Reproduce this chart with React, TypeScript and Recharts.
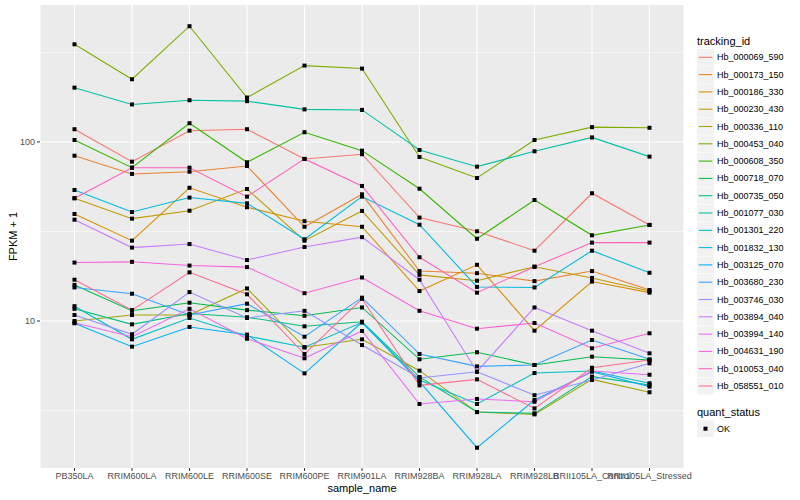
import React from "react";
import { LineChart, Line, XAxis, YAxis, CartesianGrid } from "recharts";

const categories = [
  "PB350LA",
  "RRIM600LA",
  "RRIM600LE",
  "RRIM600SE",
  "RRIM600PE",
  "RRIM901LA",
  "RRIM928BA",
  "RRIM928LA",
  "RRIM928LB",
  "RRII105LA_Control",
  "RRII105LA_Stressed",
];

const seriesNames = [
  "Hb_000069_590",
  "Hb_000173_150",
  "Hb_000186_330",
  "Hb_000230_430",
  "Hb_000336_110",
  "Hb_000453_040",
  "Hb_000608_350",
  "Hb_000718_070",
  "Hb_000735_050",
  "Hb_001077_030",
  "Hb_001301_220",
  "Hb_001832_130",
  "Hb_003125_070",
  "Hb_003680_230",
  "Hb_003746_030",
  "Hb_003894_040",
  "Hb_003994_140",
  "Hb_004631_190",
  "Hb_010053_040",
  "Hb_058551_010",
];

const seriesColors = [
  "#F8766D", "#EA8331", "#D89000", "#C09B00", "#A3A500",
  "#7CAE00", "#39B600", "#00BB4E", "#00BF7D", "#00C1A3",
  "#00BFC4", "#00BAE0", "#00B0F6", "#35A2FF", "#9590FF",
  "#C77CFF", "#E76BF3", "#FA62DB", "#FF62BC", "#FF6C91",
];

const s000069 = [117.8, 77.6, 115.6, 117.8, 80.4, 85.4, 37.8, 31.7, 24.7, 51.7, 34.4];
const s000173 = [83.8, 66.3, 68.2, 73.4, 33.6, 51.0, 19.0, 18.5, 16.7, 19.0, 14.9];
const s000186 = [39.6, 28.1, 55.5, 43.2, 36.1, 33.6, 14.7, 20.6, 8.83, 16.6, 14.4];
const s000230 = [48.5, 37.3, 41.3, 54.6, 28.1, 41.2, 18.1, 16.8, 20.1, 17.4, 14.7];
const s000336 = [10.0, 10.8, 10.8, 15.2, 7.13, 7.9, 5.28, 3.1, 3.01, 4.72, 4.0];
const s000453 = [351, 224, 443, 177, 267, 257, 82.4, 62.9, 102.6, 121, 120];
const s000608 = [102.6, 71.8, 127.2, 77.0, 113.3, 89.4, 54.8, 28.8, 47.4, 30.1, 34.4];
const s000718 = [15.9, 11.4, 12.65, 11.5, 10.7, 11.9, 6.11, 6.69, 5.68, 6.32, 6.05];
const s000735 = [11.7, 9.58, 11.0, 10.5, 9.34, 9.91, 4.87, 3.1, 3.05, 4.89, 4.39];
const s001077 = [201, 162, 171, 169, 152, 151, 90.2, 72.8, 88.7, 106, 82.8];
const s001301 = [12.1, 7.9, 10.4, 8.25, 7.13, 9.83, 4.68, 3.44, 5.12, 5.26, 4.49];
const s001832 = [53.9, 40.6, 48.9, 45.4, 28.6, 49.5, 34.5, 15.5, 15.4, 24.7, 18.6];
const s003125 = [9.71, 7.19, 9.26, 8.39, 5.1, 9.83, 4.58, 1.96, 3.62, 5.21, 4.3];
const s003680 = [15.4, 14.2, 10.8, 12.5, 8.17, 13.5, 6.54, 5.58, 5.68, 7.83, 6.11];
const s003746 = [10.8, 8.43, 14.5, 10.4, 11.4, 7.34, 4.81, 5.21, 3.85, 4.68, 5.8];
const s003894 = [36.8, 25.7, 26.9, 21.9, 25.9, 29.4, 17.0, 5.21, 11.9, 8.83, 6.6];
const s003994 = [9.78, 8.17, 11.7, 7.96, 6.19, 8.79, 3.44, 3.67, 3.54, 5.26, 5.01];
const s004631 = [21.2, 21.4, 20.4, 20.0, 14.3, 17.5, 11.4, 9.06, 9.75, 7.04, 8.54];
const s010053 = [48.5, 71.8, 71.8, 49.5, 80.4, 56.8, 22.7, 14.4, 20.1, 27.4, 27.4];
const s058551 = [17.0, 11.5, 18.7, 14.1, 6.54, 13.3, 4.37, 4.72, 3.25, 5.48, 6.05];

const seriesValues = [
  s000069, s000173, s000186, s000230, s000336,
  s000453, s000608, s000718, s000735, s001077,
  s001301, s001832, s003125, s003680, s003746,
  s003894, s003994, s004631, s010053, s058551,
];

const yMajorTicks = [10, 100];
const yMinorGrid = [3.1623, 31.623, 316.23];
const yDomain = [1.51, 582];

const data = categories.map((c, i) => {
  const row: Record<string, any> = { sample: c };
  seriesNames.forEach((n, k) => {
    row[n] = seriesValues[k][i];
  });
  return row;
});

const FONT = "'Liberation Sans', Arial, Helvetica, sans-serif";

const SquareDot = (props: any) => {
  const { cx, cy, index } = props;
  if (cx == null || cy == null) return <g key={index} />;
  return <rect key={index} x={cx - 2} y={cy - 2} width={4} height={4} fill="#000" />;
};

export default function App() {
  return (
    <div style={{ position: "fixed", left: 0, top: 0, width: 800, height: 500, background: "#fff" }}>
      <LineChart
        width={800}
        height={500}
        data={data}
        margin={{ top: 5, right: 116, bottom: 0, left: 0 }}
      >
        <CartesianGrid
          fill="#EBEBEB"
          stroke="#FFFFFF"
          strokeWidth={0.55}
          vertical={false}
          horizontalValues={yMinorGrid}
        />
        <CartesianGrid
          stroke="#FFFFFF"
          strokeWidth={1.1}
          horizontalValues={yMajorTicks}
        />
        <XAxis
          dataKey="sample"
          type="category"
          interval={0}
          padding={{ left: 34.5, right: 34.5 }}
          height={32}
          axisLine={false}
          tickSize={3}
          tickMargin={2}
          tickLine={{ stroke: "#333333" }}
          tick={{ fontSize: 9, fill: "#4D4D4D", fontFamily: FONT }}
        />
        <YAxis
          scale="log"
          domain={yDomain}
          allowDataOverflow
          ticks={yMajorTicks}
          width={40}
          axisLine={false}
          tickSize={3}
          tickMargin={2}
          tickLine={{ stroke: "#333333" }}
          tick={{ fontSize: 9, fill: "#4D4D4D", fontFamily: FONT }}
        />
        {seriesNames.map((n, k) => (
          <Line
            key={"l" + n}
            dataKey={n}
            stroke={seriesColors[k]}
            strokeWidth={1.07}
            dot={false}
            activeDot={false}
            isAnimationActive={false}
            type="linear"
          />
        ))}
        {seriesNames.map((n) => (
          <Line
            key={"p" + n}
            dataKey={n}
            stroke="none"
            dot={<SquareDot />}
            activeDot={false}
            isAnimationActive={false}
            legendType="none"
          />
        ))}
      </LineChart>
      <svg
        width={800}
        height={500}
        style={{ position: "absolute", left: 0, top: 0, pointerEvents: "none" }}
        fontFamily={FONT}
      >
        <text x={13} y={236.5} transform="rotate(-90 13 236.5)" textAnchor="middle" dominantBaseline="central" fontSize={11} fill="#000">
          FPKM + 1
        </text>
        <text x={362} y={488} textAnchor="middle" dominantBaseline="central" fontSize={11} fill="#000">
          sample_name
        </text>
        <text x={697} y={40.7} dominantBaseline="central" fontSize={11} fill="#000">
          tracking_id
        </text>
        {seriesNames.map((n, k) => {
          const cy = 57.3 + k * 17.3;
          return (
            <g key={"lg" + n}>
              <rect x={697} y={cy - 8.4} width={17} height={16.8} fill="#F2F2F2" />
              <line x1={698.7} x2={712.3} y1={cy} y2={cy} stroke={seriesColors[k]} strokeWidth={1.07} />
              <text x={717} y={cy} dominantBaseline="central" fontSize={9} fill="#000">
                {n}
              </text>
            </g>
          );
        })}
        <text x={697} y={411.7} dominantBaseline="central" fontSize={11} fill="#000">
          quant_status
        </text>
        <rect x={697} y={428.7 - 8.4} width={17} height={16.8} fill="#F2F2F2" />
        <rect x={703.5} y={426.7} width={4} height={4} fill="#000" />
        <text x={717} y={428.7} dominantBaseline="central" fontSize={9} fill="#000">
          OK
        </text>
      </svg>
    </div>
  );
}
